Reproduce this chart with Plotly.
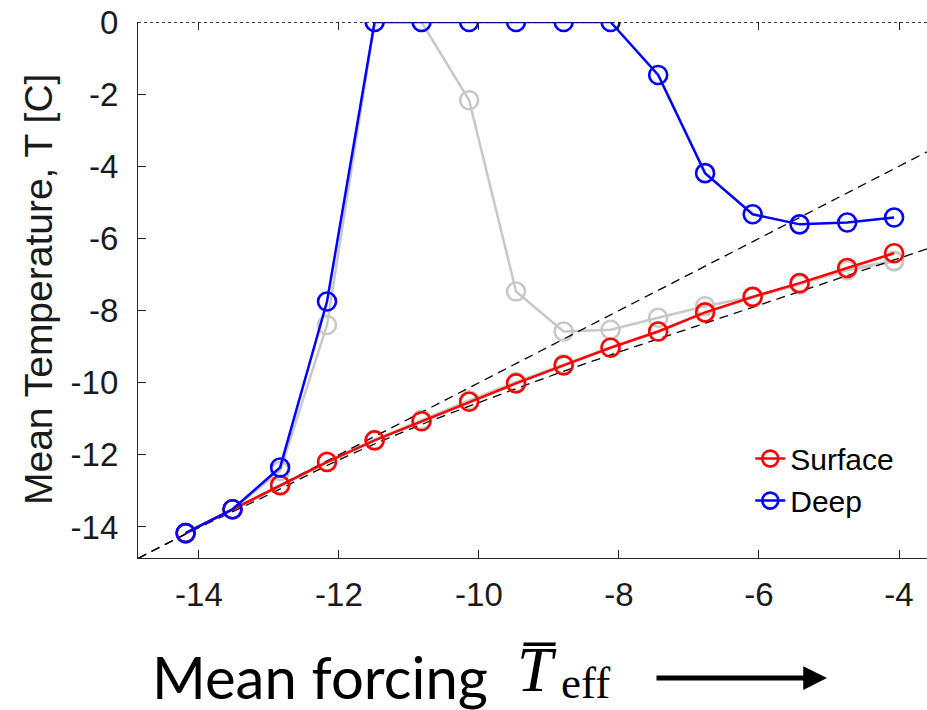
import plotly.graph_objects as go

# ---- data ----
forcing = [-14.19, -13.52, -12.84, -12.17, -11.49, -10.82, -10.14, -9.47,
           -8.79, -8.12, -7.44, -6.77, -6.09, -5.42, -4.74, -4.07]
surface = [-14.17, -13.51, -12.84, -12.20, -11.60, -11.07, -10.53, -10.02,
           -9.52, -9.03, -8.58, -8.05, -7.62, -7.24, -6.82, -6.41]
deep = [-14.17, -13.51, -12.35, -7.75, 0, 0, 0, 0,
        0, 0, -1.47, -4.19, -5.33, -5.61, -5.56, -5.42]
deep_gray = [-14.17, -13.51, -12.45, -8.40, 0, 0, -2.17, -7.47,
             -8.58, -8.53, -8.20, -7.88, -7.62, -7.27, -6.88, -6.64]
surface_gray = [-14.17, -13.51, -12.84, -12.18, -11.58, -11.03, -10.49, -9.98,
                -9.49, -9.02, -8.58, -8.07, -7.64, -7.27, -6.86, -6.62]
# reference lines
ref1_x = [-14.87, -3.6]
ref1_y = [-14.87, -3.6]
ref2_x = [-14.87, -14.0, -13.0, -12.0, -11.0, -10.0, -9.0, -8.0, -7.0, -6.0, -5.0, -4.0, -3.6]
ref2_y = [-14.87, -14.02, -13.10, -12.14, -11.30, -10.55, -9.83, -9.15, -8.50, -7.85, -7.20, -6.55, -6.29]

x_ticks = [-14, -12, -10, -8, -6, -4]
y_ticks = [0, -2, -4, -6, -8, -10, -12, -14]

GRAY = "#c8c8c8"
fig = go.Figure()
mk = dict(symbol="circle-open", size=18, line=dict(width=2.6))

fig.add_trace(go.Scatter(x=forcing, y=surface_gray, mode="lines+markers", showlegend=False,
                         line=dict(color=GRAY, width=2.5), marker=dict(color=GRAY, **mk)))
fig.add_trace(go.Scatter(x=forcing, y=deep_gray, mode="lines+markers", showlegend=False,
                         line=dict(color=GRAY, width=2.5), marker=dict(color=GRAY, **mk)))
fig.add_trace(go.Scatter(x=ref1_x, y=ref1_y, mode="lines", showlegend=False,
                         line=dict(color="black", width=1.3, dash="9px,6px")))
fig.add_trace(go.Scatter(x=ref2_x, y=ref2_y, mode="lines", showlegend=False, line_shape="spline",
                         line=dict(color="black", width=1.3, dash="9px,6px")))
fig.add_trace(go.Scatter(x=forcing, y=surface, mode="lines+markers", name="Surface",
                         line=dict(color="#ff0000", width=2.5), marker=dict(color="#ff0000", **mk)))
fig.add_trace(go.Scatter(x=forcing, y=deep, mode="lines+markers", name="Deep",
                         line=dict(color="#0000ff", width=2.5), marker=dict(color="#0000ff", **mk)))

FONT = "Liberation Sans, Arial, Helvetica, sans-serif"
SERIF = "Liberation Serif, Times New Roman, serif"
fig.update_layout(
    width=927, height=710,
    margin=dict(l=138, r=0, t=22, b=152),
    paper_bgcolor="white", plot_bgcolor="white",
    font=dict(family=FONT, color="#262626"),
    xaxis=dict(range=[-14.87, -3.6], tickvals=x_ticks, ticktext=[str(v) for v in x_ticks],
               showgrid=False, zeroline=False, showline=True, linecolor="#262626", linewidth=1.2,
               ticks="inside", ticklen=8, tickcolor="#262626", tickwidth=1.2,
               tickfont=dict(size=33, color="#1a1a1a"), ticklabelstandoff=7),
    xaxis2=dict(range=[-14.87, -3.6], overlaying="x", side="top", tickvals=x_ticks,
                showticklabels=False, showgrid=False, zeroline=False, showline=False,
                ticks="inside", ticklen=8, tickcolor="#262626", tickwidth=1.2),
    yaxis=dict(range=[-14.86, 0], tickvals=y_ticks, ticktext=[str(v) for v in y_ticks],
               showgrid=False, zeroline=False, showline=True, linecolor="#262626", linewidth=1.2,
               ticks="inside", ticklen=8, tickcolor="#262626", tickwidth=1.2,
               tickfont=dict(size=33, color="#1a1a1a"), ticklabelstandoff=12),
    legend=dict(x=0.776, y=0.234, xanchor="left", yanchor="top", bgcolor="rgba(0,0,0,0)",
                font=dict(size=30, color="black"), tracegroupgap=3, itemwidth=30),
)
# dummy trace to activate top ticks axis
fig.add_trace(go.Scatter(x=[None], y=[None], xaxis="x2", showlegend=False, hoverinfo="skip"))

# dotted line at T = 0 (top of the box)
fig.add_shape(type="line", xref="paper", yref="y", x0=0, x1=1, y0=0, y1=0,
              line=dict(color="black", width=1.3, dash="dot"))

# y-axis title
fig.add_annotation(text="Mean Temperature, T [C]", xref="paper", yref="paper",
                   x=(38 - 138) / 789, y=0.5, textangle=-90, showarrow=False,
                   xanchor="center", yanchor="middle",
                   font=dict(size=39, family=FONT, color="#1a1a1a"))

def px(xp):
    return (xp - 138) / 789

def py(yp):
    return (558 - yp) / 536

# bottom label (split into pieces)
fig.add_annotation(text="Mean forcing", xref="paper", yref="paper", x=px(150), y=py(676),
                   xanchor="left", yanchor="middle", showarrow=False,
                   font=dict(size=58, family="Lato, Open Sans, sans-serif", color="black"))
fig.add_annotation(text="<i>T\u0305</i>", xref="paper", yref="paper", x=px(515), y=py(669),
                   xanchor="left", yanchor="middle", showarrow=False,
                   font=dict(size=64, family=SERIF, color="black"))
fig.add_annotation(text="eff", xref="paper", yref="paper", x=px(559), y=py(683),
                   xanchor="left", yanchor="middle", showarrow=False,
                   font=dict(size=45, family=SERIF, color="black"))
# arrow
fig.add_annotation(text="", xref="paper", yref="paper",
                   x=px(827), y=py(678), ax=-172, ay=0,
                   showarrow=True, arrowhead=2, arrowsize=0.95, arrowwidth=5, arrowcolor="black")

fig.write_html("out.html")
